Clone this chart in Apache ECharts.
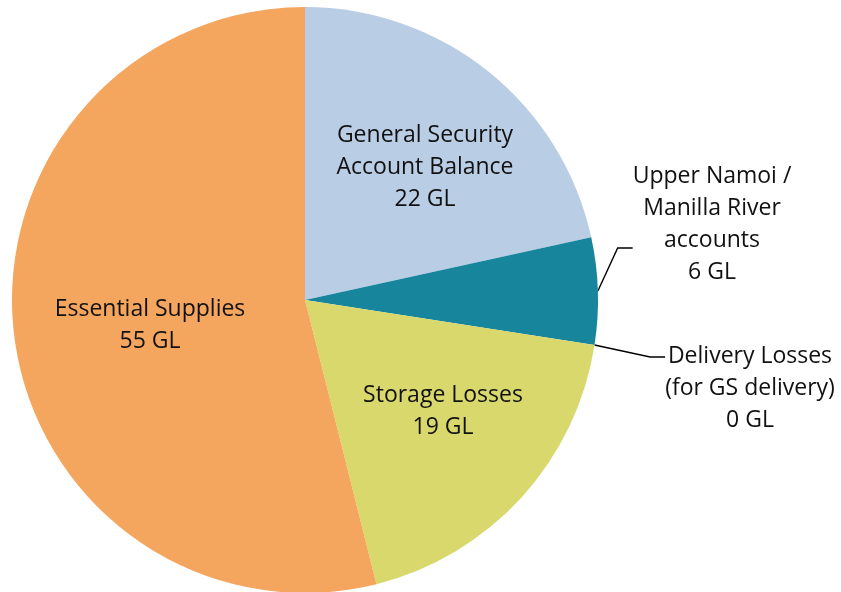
<!DOCTYPE html>
<html><head><meta charset="utf-8">
<script src="https://cdn.jsdelivr.net/npm/echarts@6/dist/echarts.min.js"></script>
<style>html,body{margin:0;padding:0;background:#fff}#c{width:841px;height:592px}</style>
</head><body><div id="c"></div>
<script>
var categories = ['General Security\nAccount Balance', 'Upper Namoi /\nManilla River\naccounts', 'Delivery Losses\n(for GS delivery)', 'Storage Losses', 'Essential Supplies'];
var values = [22, 6, 0, 19, 55];
var unit = 'GL';
var colors = ['#B9CDE5', '#17869C', '#4F81BD', '#D9D86C', '#F5A65E'];
var outsideIdx = [1, 2];
// label anchor positions (px)
var labelPos = [[425, 167], [712, 248], [750, 357], [443, 411], [150, 325]];
// invisible spacer lines so the leader line meets the label at the right row
var spacerBefore = ['', '', '{sp62| }\n', '', ''];
var spacerAfter = ['', '\n{sp48| }', '', '', ''];

var chart = echarts.init(document.getElementById('c'), null, {renderer: 'canvas'});
var data = categories.map(function (c, i) {
  var outside = outsideIdx.indexOf(i) >= 0;
  return {
    name: c, value: values[i],
    itemStyle: {color: colors[i]},
    label: {position: outside ? 'outside' : 'inside'},
    labelLine: {show: outside}
  };
});
chart.setOption({
  animation: false,
  series: [{
    type: 'pie',
    center: [305, 300],
    radius: 293,
    startAngle: 90,
    clockwise: true,
    avoidLabelOverlap: false,
    data: data,
    itemStyle: {borderWidth: 0},
    label: {
      show: true,
      formatter: function (p) {
        return spacerBefore[p.dataIndex] + p.name + '\n' + p.value + ' ' + unit + spacerAfter[p.dataIndex];
      },
      fontFamily: 'Open Sans',
      fontSize: 23,
      lineHeight: 32,
      color: '#111',
      align: 'center',
      rich: {
        sp48: {lineHeight: 48, fontSize: 10, color: 'rgba(0,0,0,0)'},
        sp62: {lineHeight: 62, fontSize: 10, color: 'rgba(0,0,0,0)'}
      }
    },
    labelLine: {lineStyle: {color: '#000', width: 1.4}, length: 40, length2: 15},
    labelLayout: function (p) {
      var pos = labelPos[p.dataIndex];
      return {x: pos[0], y: pos[1], align: 'center', verticalAlign: 'middle'};
    }
  }]
});
</script></body></html>
